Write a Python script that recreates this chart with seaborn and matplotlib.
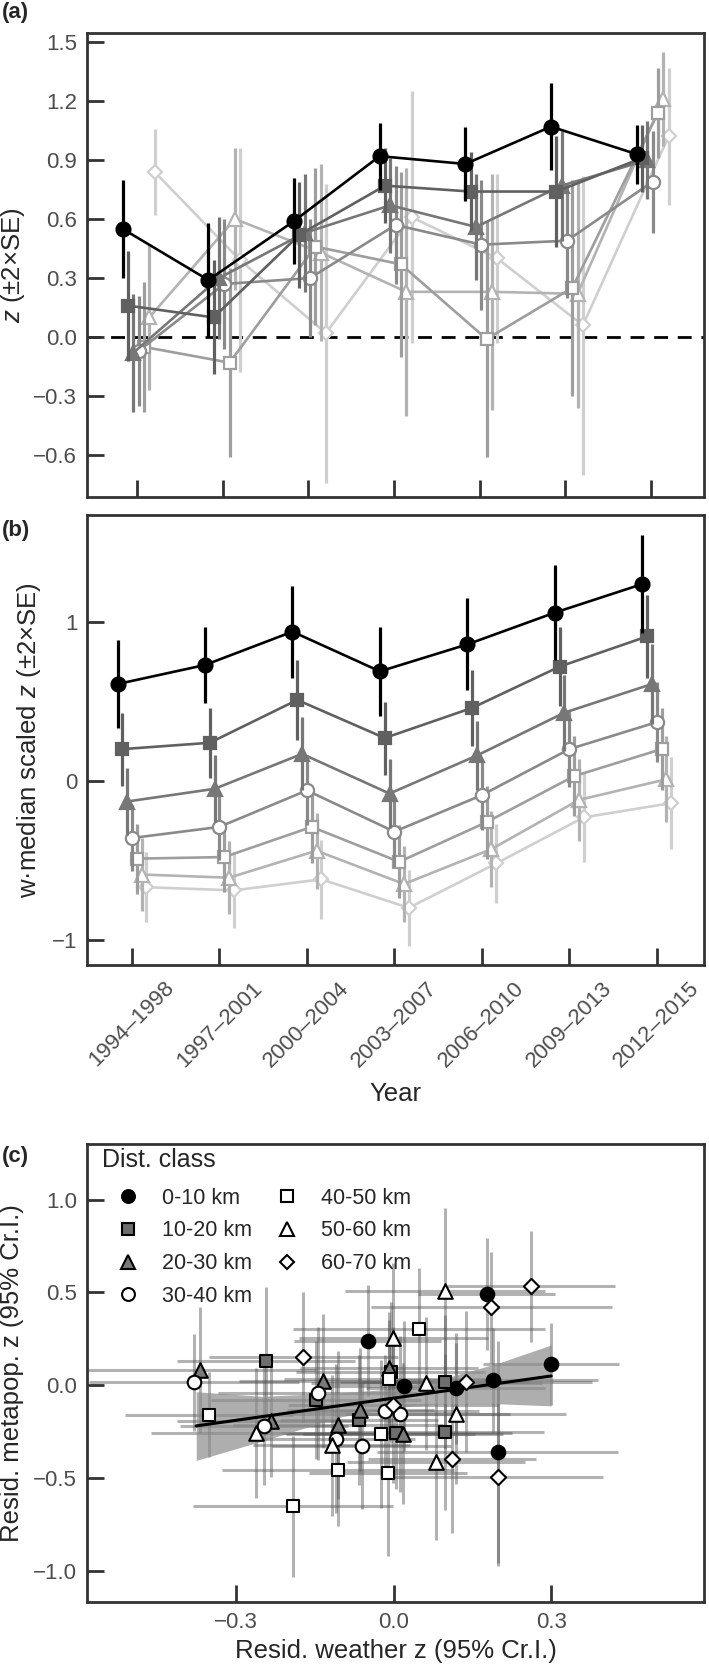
import numpy as np
import pandas as pd
import matplotlib.pyplot as plt
from matplotlib.lines import Line2D
import seaborn as sns

# ---- data ----
years = ["1994\u20131998", "1997\u20132001", "2000\u20132004", "2003\u20132007",
         "2006\u20132010", "2009\u20132013", "2012\u20132015"]
dist_classes = ["0-10 km", "10-20 km", "20-30 km", "30-40 km",
                "40-50 km", "50-60 km", "60-70 km"]

# (a) z per year and distance class, and half width of the +-2xSE bar
a_mean = [
    [0.55, 0.29, 0.59, 0.92, 0.88, 1.07, 0.93],
    [0.16, 0.10, 0.52, 0.77, 0.74, 0.74, 0.91],
    [-0.08, 0.30, 0.53, 0.67, 0.56, 0.77, 0.90],
    [-0.07, 0.27, 0.30, 0.57, 0.47, 0.49, 0.79],
    [-0.05, -0.13, 0.46, 0.37, -0.01, 0.25, 1.14],
    [0.10, 0.60, 0.43, 0.23, 0.23, 0.22, 1.21],
    [0.84, 0.39, 0.02, 0.61, 0.40, 0.06, 1.02],
]
a_half = [
    [0.25, 0.29, 0.22, 0.17, 0.19, 0.22, 0.15],
    [0.28, 0.29, 0.27, 0.19, 0.20, 0.28, 0.17],
    [0.30, 0.31, 0.30, 0.24, 0.27, 0.28, 0.20],
    [0.28, 0.33, 0.30, 0.30, 0.33, 0.29, 0.26],
    [0.33, 0.48, 0.40, 0.47, 0.60, 0.55, 0.23],
    [0.37, 0.36, 0.45, 0.63, 0.60, 0.58, 0.24],
    [0.22, 0.57, 0.76, 0.64, 0.43, 0.76, 0.35],
]

# (b) w-median scaled z
b_mean = [
    [0.61, 0.73, 0.94, 0.69, 0.86, 1.06, 1.24],
    [0.20, 0.24, 0.51, 0.27, 0.46, 0.72, 0.91],
    [-0.13, -0.05, 0.17, -0.08, 0.16, 0.43, 0.61],
    [-0.36, -0.29, -0.06, -0.32, -0.09, 0.20, 0.37],
    [-0.49, -0.48, -0.29, -0.51, -0.26, 0.03, 0.20],
    [-0.59, -0.61, -0.44, -0.65, -0.43, -0.12, 0.01],
    [-0.67, -0.69, -0.62, -0.80, -0.52, -0.23, -0.14],
]
b_half = [
    [0.28, 0.24, 0.29, 0.28, 0.29, 0.30, 0.31],
    [0.23, 0.22, 0.25, 0.23, 0.24, 0.25, 0.26],
    [0.21, 0.21, 0.23, 0.22, 0.22, 0.24, 0.25],
    [0.21, 0.21, 0.22, 0.22, 0.22, 0.24, 0.25],
    [0.22, 0.22, 0.23, 0.23, 0.23, 0.25, 0.26],
    [0.23, 0.23, 0.24, 0.24, 0.24, 0.26, 0.27],
    [0.22, 0.24, 0.25, 0.24, 0.25, 0.28, 0.29],
]

# (c) residual weather z vs residual metapop z (95% Cr.I. half widths)
c_x = [
    [-0.049, 0.019, 0.118, 0.177, 0.189, 0.198, 0.300],
    [-0.243, -0.148, -0.066, -0.006, 0.005, 0.097, 0.097],
    [-0.368, -0.233, -0.134, -0.106, -0.064, -0.009, 0.018],
    [-0.380, -0.247, -0.145, -0.110, -0.061, -0.017, 0.012],
    [-0.352, -0.192, -0.106, -0.025, -0.011, -0.009, 0.048],
    [-0.262, -0.118, -0.001, 0.062, 0.081, 0.098, 0.118],
    [-0.172, -0.001, 0.112, 0.138, 0.186, 0.198, 0.262],
]
c_y = [
    [0.241, -0.003, -0.017, 0.491, 0.028, -0.360, 0.115],
    [0.131, -0.080, -0.185, 0.070, -0.257, 0.019, -0.252],
    [0.082, -0.192, 0.023, -0.215, -0.131, 0.095, -0.261],
    [0.015, -0.219, -0.044, -0.288, -0.327, -0.138, -0.153],
    [-0.158, -0.652, -0.459, -0.264, -0.472, 0.034, 0.304],
    [-0.255, -0.324, 0.257, 0.010, -0.414, 0.506, -0.153],
    [0.150, -0.107, -0.396, 0.019, 0.419, -0.495, 0.533],
]
c_xerr = [
    [0.14, 0.16, 0.17, 0.13, 0.20, 0.23, 0.13],
    [0.17, 0.20, 0.15, 0.18, 0.22, 0.16, 0.19],
    [0.22, 0.18, 0.16, 0.20, 0.14, 0.17, 0.19],
    [0.20, 0.16, 0.19, 0.15, 0.17, 0.18, 0.21],
    [0.16, 0.19, 0.22, 0.18, 0.15, 0.20, 0.24],
    [0.20, 0.15, 0.18, 0.22, 0.17, 0.19, 0.21],
    [0.18, 0.20, 0.16, 0.24, 0.23, 0.20, 0.16],
]
c_yerr = [
    [0.30, 0.35, 0.30, 0.30, 0.28, 0.60, 0.22],
    [0.40, 0.32, 0.35, 0.38, 0.30, 0.36, 0.42],
    [0.34, 0.30, 0.36, 0.40, 0.33, 0.30, 0.38],
    [0.26, 0.32, 0.36, 0.40, 0.34, 0.30, 0.42],
    [0.23, 0.38, 0.30, 0.40, 0.45, 0.32, 0.33],
    [0.35, 0.38, 0.40, 0.36, 0.42, 0.45, 0.38],
    [0.35, 0.42, 0.40, 0.38, 0.30, 0.48, 0.30],
]

# fitted relation in (c) and its band
fit_x = [-0.376, 0.300]
fit_y = [-0.219, 0.050]
band_x = [-0.376, -0.25, -0.10, 0.00, 0.10, 0.20, 0.300]
band_lo = [-0.405, -0.30, -0.17, -0.12, -0.10, -0.10, -0.111]
band_hi = [-0.035, -0.06, -0.04, -0.02, 0.04, 0.12, 0.217]

# ---- styles ----
line_cols = ["#000000", "#606060", "#777777", "#8a8a8a", "#9e9e9e", "#b3b3b3", "#cfcfcf"]
markers = ["o", "s", "^", "o", "s", "^", "D"]
msizes = [10, 8, 9.5, 9.5, 8.5, 9.5, 7.5]
filled = [True, True, True, False, False, False, False]
c_fill = ["#000000", "#6e6e6e", "#7a7a7a", "white", "white", "white", "white"]
c_size = [95, 75, 110, 95, 75, 110, 60]

TICK_FS = 16
LAB_FS = 18.5

sns.set_style("white")
plt.rcParams["font.family"] = ["Liberation Sans", "DejaVu Sans"]
plt.rcParams["mathtext.fontset"] = "custom"
plt.rcParams["mathtext.it"] = "Liberation Sans:italic"
plt.rcParams["mathtext.rm"] = "Liberation Sans"

W, H = 709, 1664
fig = plt.figure(figsize=(W / 100, H / 100), dpi=100)


def box(l, t, r, b):
    return [l / W, 1 - b / H, (r - l) / W, (b - t) / H]


ax_a = fig.add_axes(box(87, 33, 704, 497))
ax_b = fig.add_axes(box(87, 515, 704, 965))
ax_c = fig.add_axes(box(87, 1144, 704, 1602))


def style_axes(ax):
    for s in ax.spines.values():
        s.set_color("#333333")
        s.set_linewidth(2.0)
    ax.tick_params(direction="in", length=12, width=2.0, color="#333333",
                   labelcolor="#4d4d4d", labelsize=TICK_FS, pad=7,
                   bottom=True, left=True, top=False, right=False)


def year_panel(ax, means, halves, shift, step):
    xs = np.arange(len(years))
    for i in reversed(range(len(dist_classes))):
        x = xs + (i - 3) * step + shift
        col = line_cols[i]
        fc = col if filled[i] else "white"
        ax.vlines(x, np.array(means[i]) - np.array(halves[i]),
                  np.array(means[i]) + np.array(halves[i]),
                  color=col, lw=2.3, zorder=10 - i)
        sns.lineplot(x=x, y=means[i], ax=ax, color=col, lw=1.9,
                     marker=markers[i], markersize=msizes[i],
                     markerfacecolor=fc, markeredgecolor=col,
                     markeredgewidth=1.6, zorder=10 - i)
    ax.set_xticks(xs)
    style_axes(ax)


# (a)
year_panel(ax_a, a_mean, a_half, 0.02, 0.062)
ax_a.axhline(0, color="black", lw=2.0, ls=(0, (5, 3.5)), zorder=0)
ax_a.set_xlim(-0.583, 6.62)
ax_a.set_ylim(-0.813, 1.546)
ax_a.set_yticks([-0.6, -0.3, 0.0, 0.3, 0.6, 0.9, 1.2, 1.5])
ax_a.set_yticklabels([f"{v:.1f}".replace("-", "\u2212") for v in ax_a.get_yticks()])
ax_a.set_xticklabels([])
ax_a.set_xlabel("")
ax_a.set_ylabel("$\\it{z}$ (\u00b12\u00d7SE)", fontsize=LAB_FS)
ax_a.yaxis.set_label_coords(-0.097, 0.5)

# (b)
year_panel(ax_b, b_mean, b_half, 0.0, 0.055)
ax_b.set_xlim(-0.514, 6.54)
ax_b.set_ylim(-1.16, 1.675)
ax_b.set_yticks([-1, 0, 1])
ax_b.set_yticklabels(["\u22121", "0", "1"])
ax_b.set_xticklabels(years, rotation=45, ha="center")
ax_b.tick_params(axis="x", pad=9)
ax_b.set_xlabel("Year", fontsize=LAB_FS)
ax_b.xaxis.set_label_coords(0.5, -0.26)
ax_b.set_ylabel("w\u00b7median scaled $\\it{z}$ (\u00b12\u00d7SE)", fontsize=LAB_FS)
ax_b.yaxis.set_label_coords(-0.072, 0.5)

# (c)
ax_c.fill_between(band_x, band_lo, band_hi, color="#8c8c8c", alpha=0.7, lw=0, zorder=2)
for i in range(len(dist_classes)):
    ax_c.errorbar(c_x[i], c_y[i], xerr=c_xerr[i], yerr=c_yerr[i], fmt="none",
                  ecolor="#555555", alpha=0.45, elinewidth=2.2, zorder=1)
sns.lineplot(x=fit_x, y=fit_y, ax=ax_c, color="black", lw=2.2, zorder=3)
handles = []
for i, cls in enumerate(dist_classes):
    df = pd.DataFrame({"x": c_x[i], "y": c_y[i]})
    sns.scatterplot(data=df, x="x", y="y", ax=ax_c, marker=markers[i], s=c_size[i],
                    color=c_fill[i], edgecolor="black", linewidth=1.5, zorder=4)
    handles.append(Line2D([], [], ls="none", marker=markers[i],
                          markersize=np.sqrt(c_size[i]) * 0.95,
                          markerfacecolor=c_fill[i], markeredgecolor="black",
                          markeredgewidth=1.5, label=cls))
ax_c.set_xlim(-0.584, 0.591)
ax_c.set_ylim(-1.168, 1.30)
ax_c.set_xticks([-0.3, 0.0, 0.3])
ax_c.set_xticklabels(["\u22120.3", "0.0", "0.3"])
ax_c.set_yticks([-1.0, -0.5, 0.0, 0.5, 1.0])
ax_c.set_yticklabels(["\u22121.0", "\u22120.5", "0.0", "0.5", "1.0"])
style_axes(ax_c)
ax_c.set_xlabel("Resid. weather z (95% Cr.I.)", fontsize=LAB_FS)
ax_c.xaxis.set_label_coords(0.5, -0.08)
ax_c.set_ylabel("Resid. metapop. z (95% Cr.I.)", fontsize=LAB_FS)
ax_c.yaxis.set_label_coords(-0.102, 0.5)
ax_c.text(0.024, 0.992, "Dist. class", transform=ax_c.transAxes, fontsize=18,
          ha="left", va="top")
leg = ax_c.legend(handles=handles, ncol=2, frameon=False,
                  loc="upper left", bbox_to_anchor=(0.0486, 0.905), fontsize=15.5,
                  handlelength=1.0, handletextpad=1.1, columnspacing=1.1,
                  labelspacing=0.55, borderaxespad=0.0, borderpad=0.0)

for lab, y in [("(a)", 2), ("(b)", 520), ("(c)", 1146)]:
    fig.text(0.002, 1 - y / H, lab, fontsize=16, fontweight="bold", va="top", ha="left")

fig.savefig("out.png", dpi=100)
